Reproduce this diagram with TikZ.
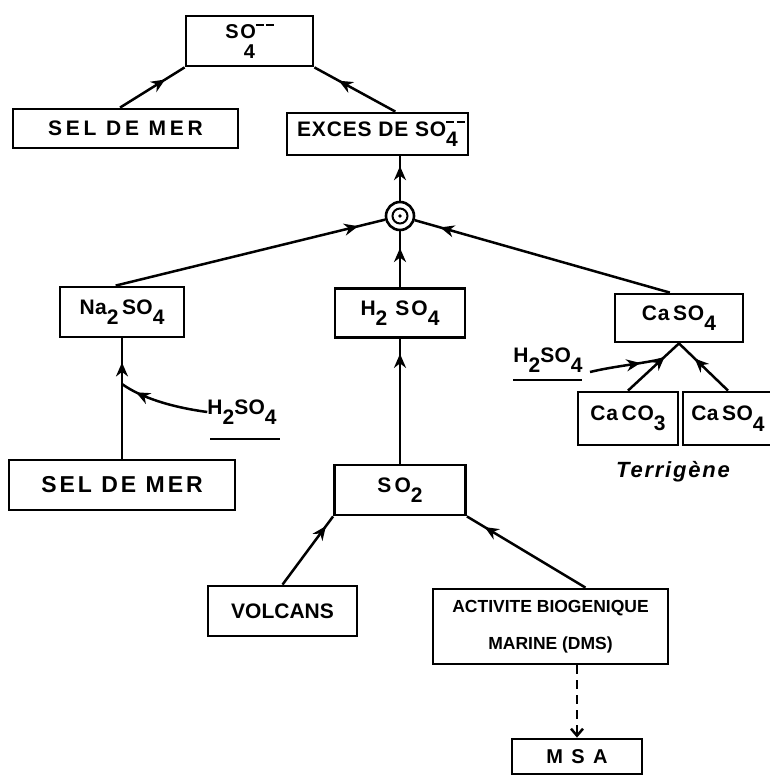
\documentclass[tikz,border=0pt]{standalone}
\usepackage{fontspec}
\setmainfont{Liberation Sans}
\usetikzlibrary{arrows.meta,decorations.markings,calc}

\newcommand\sbx[1]{\raisebox{-0.5em}{#1}}
\newcommand\dmm{\raisebox{0.62em}{\rule{0.38em}{0.1em}\hspace{0.12em}\rule{0.38em}{0.1em}}}
\newcommand\lsf[2]{\bfseries\fontsize{#2}{#2}\selectfont\addfontfeature{LetterSpace=#1}}

\tikzset{
  box/.style={draw, rectangle, line width=2.8pt, inner sep=0pt},
  conn/.style={line width=2.5pt},
  marr/.style={postaction={decorate}, decoration={markings,
      mark=at position #1 with {\arrow{Stealth[length=14pt,width=12pt,inset=4.5pt]}}}},
  lbl/.style={inner sep=0pt}
}

\begin{document}
\begin{tikzpicture}[x=1pt,y=-1pt]
\useasboundingbox (0,0) rectangle (770,776);

% boxes
\node[box, minimum width=127, minimum height=50, align=center, font={\lsf{8}{20}}] (so4top) at (249.5,41) {SO\dmm\\[0pt]4};
\node[box, minimum width=225, minimum height=39, font={\lsf{18}{21}}] (selmer1) at (125.5,128.5) {SEL DE MER};
\node[box, minimum width=181, minimum height=42, font={\lsf{4}{21}}] (exces) at (377.5,134) {EXCES DE SO\rlap{\dmm}\sbx{4}};

\node[circle, draw, line width=2.6pt, minimum size=28pt, inner sep=0pt] (circ) at (400,216) {};
\draw[line width=2pt] (circ.center) circle[radius=7.5pt];
\fill (circ.center) circle[radius=1.8pt];

\node[box, minimum width=124, minimum height=50, font={\lsf{2}{21}}] (na) at (122,312) {Na\sbx{2}\,SO\sbx{4}};
\node[box, minimum width=130, minimum height=49, font={\lsf{10}{21}}] (h2) at (400,313) {H\sbx{2} SO\sbx{4}};
\node[box, minimum width=128, minimum height=48, font={\lsf{4}{21}}] (caso4) at (679,318) {Ca\,SO\sbx{4}};
\node[box, minimum width=100, minimum height=53, font={\lsf{4}{21}}] (caco3) at (628,418.5) {Ca\,CO\sbx{3}};
\node[box, minimum width=90, minimum height=53, font={\lsf{2}{21}}] (caso4b) at (728,418.5) {Ca\,SO\sbx{4}};
\node[lbl, font={\bfseries\itshape\fontsize{22}{22}\selectfont\addfontfeature{LetterSpace=8}}] (terr) at (673,472) {Terrigène};

\node[box, minimum width=226, minimum height=50, font={\lsf{13}{23}}] (selmer2) at (122,485) {SEL DE MER};
\node[box, minimum width=131, minimum height=50, font={\lsf{15}{21}}] (so2) at (400,490) {SO\sbx{2}};
\node[box, minimum width=149, minimum height=50, font={\lsf{0}{21}}] (volcans) at (282.5,611) {VOLCANS};
\node[box, minimum width=235, minimum height=75, align=center, font={\lsf{0}{17.5}}] (activite) at (550.5,626.5) {ACTIVITE BIOGENIQUE\\[19pt]MARINE (DMS)};
\node[box, minimum width=130, minimum height=35, font={\lsf{14}{20}}] (msa) at (577,756.5) {M S A};

% side labels
\node[lbl, font={\lsf{1}{21}}] (h2L) at (242,412) {H\sbx{2}SO\sbx{4}};
\draw[line width=2.5pt] (210,439) -- (280,439);
\node[lbl, font={\lsf{1}{21}}] (h2R) at (548,360) {H\sbx{2}SO\sbx{4}};
\draw[line width=2.5pt] (513,380) -- (582,380);

% connectors
\draw[conn, marr=0.7] ($(selmer1.north west)!0.476!(selmer1.north east)$) -- (so4top.south west);
\draw[conn, marr=0.7] ($(exces.north west)!0.597!(exces.north east)$) -- (so4top.south east);
\draw[conn, marr=0.78] (circ.north) -- (circ.north |- exces.south);
\draw[conn, marr=0.9] ($(na.north west)!0.45!(na.north east)$) -- (circ);
\draw[conn, marr=0.7] (h2.north) -- (circ);
\draw[conn, marr=0.9] ($(caso4.north west)!0.43!(caso4.north east)$) -- (circ);
\draw[conn, marr=0.8] (selmer2.north) -- (na.south);
\coordinate (jL) at (122,384);
\draw[conn, marr=0.82] (h2L.west) .. controls (170,407) and (140,397) .. (jL);
\draw[conn, marr=0.88] (so2.north) -- (h2.south);
\draw[conn, marr=0.72] (caco3.north) -- (caso4.south);
\draw[conn, marr=0.68] (caso4b.north) -- (caso4.south);
\coordinate (sR) at (590,372);
\coordinate (jR) at (662,359);
\draw[conn, marr=0.7] (sR) .. controls (615,366) and (640,364) .. (jR);
\draw[conn, marr=0.86] (volcans.north) -- (so2.south west);
\draw[conn, marr=0.85] ($(activite.north west)!0.647!(activite.north east)$) -- (so2.south east);
\draw[conn, dash pattern=on 9pt off 6pt, -{Straight Barb[length=7pt,width=12pt]}] (activite.south -| msa.north) -- (msa.north);
\end{tikzpicture}
\end{document}
